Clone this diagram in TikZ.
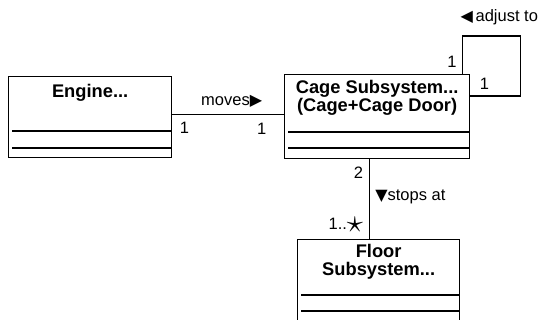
\documentclass[tikz,border=0pt]{standalone}
\usepackage{fontspec}
\setmainfont{Liberation Sans}
\newfontfamily\symfont{DejaVu Sans}
\usetikzlibrary{positioning}
\newcommand{\tri}[1]{{\symfont\fontsize{16}{16}\selectfont#1}}

\begin{document}
\begin{tikzpicture}[
  x=1pt, y=1pt,
  cls/.style={draw,line width=1.3pt,anchor=north west,inner sep=0pt},
  ttl/.style={font=\fontsize{18.3}{18.5}\selectfont\bfseries,align=center,inner sep=0pt},
  lbl/.style={font=\fontsize{16.5}{18}\selectfont,inner sep=0pt},
  assoc/.style={line width=1.3pt}
]
\useasboundingbox (0,0) rectangle (540,320);
% class boxes
\node[cls,minimum width=163,minimum height=81] (eng) at (8,244) {};
\node[cls,minimum width=185,minimum height=84] (cage) at (284,246) {};
\node[cls,minimum width=162,minimum height=92] (flr) at (297,81) {};
% class names
\node[ttl] (engt) at ([yshift=-17]eng.north) {Engine...};
\node[ttl] (caget) at ([yshift=-24]cage.north) {Cage Subsystem...\\(Cage+Cage Door)};
\node[ttl] (flrt) at ([yshift=-23]flr.north) {Floor\\Subsystem...};
% attribute / operation compartments
\foreach \c/\a/\b in {eng/55/72,cage/58/74,flr/56/72}{
  \draw[assoc] ([shift={(4,-\a)}]\c.north west) -- ([yshift=-\a]\c.north east);
  \draw[assoc] ([shift={(4,-\b)}]\c.north west) -- ([yshift=-\b]\c.north east);
}

% associations
\draw[assoc] ([yshift=2.5]eng.east) --
  node[lbl,above=7pt,xshift=3.5pt]{moves\tri{▶}}
  node[lbl,pos=0,below right=7pt and 7pt]{1}
  node[lbl,pos=1,below left=8pt and 17pt]{1}
  ([yshift=2]cage.west);
\draw[assoc] ([xshift=-8]cage.north east) --
  node[lbl,pos=0,above left=6pt and 5pt]{1} ++(0,38) --
  node[lbl,above=10pt,xshift=8pt]{\tri{◀}\,adjust to} ++(58,0) |-
  node[lbl,pos=1,above right=6pt and 9pt]{1} ([yshift=-22]cage.north east);
\draw[assoc] ([xshift=-9]flr.north |- cage.south) --
  node[lbl,pos=0,below left=7pt and 6pt]{2}
  node[lbl,midway,anchor=base west,xshift=5pt,yshift=-1.5pt]{\tri{▼}stops at}
  node[lbl,pos=1,above left=6pt and 6pt]{1..\raisebox{-2.5pt}{\scalebox{1.9}{$\star$}}}
  ([xshift=-9]flr.north);
\end{tikzpicture}
\end{document}
